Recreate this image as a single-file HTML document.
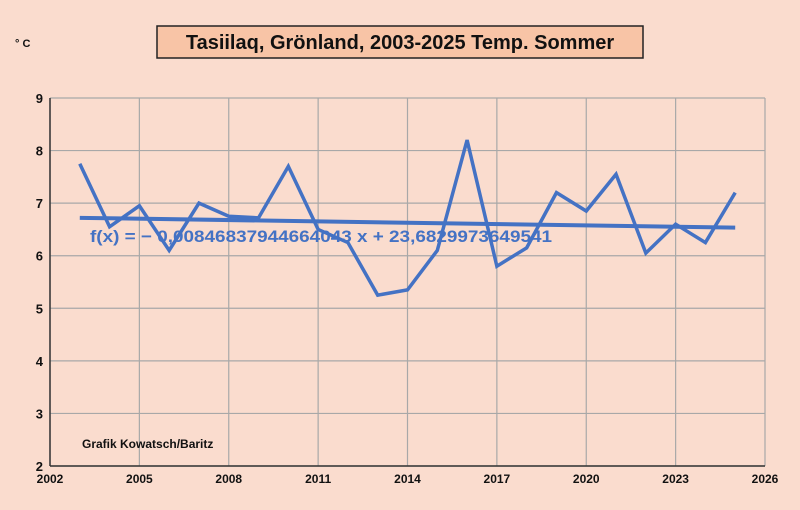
<!DOCTYPE html>
<html><head><meta charset="utf-8"><style>
body{margin:0;background:#fadcce;font-family:"Liberation Sans",sans-serif}
svg{display:block}
</style></head><body>
<svg width="800" height="510" id="c">
<rect x="0" y="0" width="800" height="510" fill="#fadcce"/>
<rect x="157" y="26" width="486" height="32" fill="#f8c4a6" stroke="#222" stroke-width="1.5"/>
<text x="400" y="49" text-anchor="middle" font-size="20" font-weight="bold" fill="#111">Tasiilaq, Grönland, 2003-2025 Temp. Sommer</text>
<text x="15" y="47" font-size="11" font-weight="bold" fill="#111">° C</text>
<g id="grid"></g>
<g id="marks"></g>
<text x="82" y="448" font-size="12" font-weight="bold" fill="#111">Grafik Kowatsch/Baritz</text>
</svg>
<script>
const years=[2003,2004,2005,2006,2007,2008,2009,2010,2011,2012,2013,2014,2015,2016,2017,2018,2019,2020,2021,2022,2023,2024,2025];
const temps=[7.75,6.55,6.95,6.1,7.0,6.75,6.72,7.7,6.5,6.25,5.25,5.35,6.1,8.2,5.8,6.15,7.2,6.85,7.55,6.05,6.6,6.25,7.2];
const xTicks=[2002,2005,2008,2011,2014,2017,2020,2023,2026];
const yTicks=[2,3,4,5,6,7,8,9];
const trendSlope=-0.0084683794466404;
const trendIntercept=23.6829973649541;
const X0=50,X1=765,Y0=466,Y1=98;
const sx=v=>X0+(v-2002)/(2026-2002)*(X1-X0);
const sy=v=>Y0-(v-2)/(9-2)*(Y0-Y1);
const NS="http://www.w3.org/2000/svg";
const g=document.getElementById('grid'),m=document.getElementById('marks');
function mk(p,t,a){const e=document.createElementNS(NS,t);for(const k in a)e.setAttribute(k,a[k]);p.appendChild(e);return e;}
yTicks.forEach(v=>{
 const l=mk(g,'line',{x1:X0,x2:X1,y1:sy(v),y2:sy(v),stroke:'#a8a8a8','stroke-width':1.2});
 
 
 const t=mk(g,'text',{x:X0-7,y:sy(v)+5,'text-anchor':'end','font-size':13,'font-weight':'bold',fill:'#111'});
 t.textContent=v;
 
 
});
xTicks.forEach(v=>{
 const l=mk(g,'line',{x1:sx(v),x2:sx(v),y1:Y1,y2:Y0,stroke:'#a8a8a8','stroke-width':1.2});
 
 
 const t=mk(g,'text',{x:sx(v),y:Y0+17,'text-anchor':'middle','font-size':12,'font-weight':'bold',fill:'#111'});
 t.textContent=v;
 
 
});
const ax=mk(g,'line',{x1:X0,x2:X0,y1:Y1,y2:Y0,stroke:'#333','stroke-width':1.5});


const ax2=mk(g,'line',{x1:X0,x2:X1,y1:Y0,y2:Y0,stroke:'#333','stroke-width':1.5});


const ya=years[0],yb=years[years.length-1];
const tr=mk(m,'line',{x1:sx(ya),x2:sx(yb),y1:sy(trendSlope*ya+trendIntercept),y2:sy(trendSlope*yb+trendIntercept),stroke:'#4472c4','stroke-width':4});


const pl=mk(m,'polyline',{points:years.map((y,i)=>sx(y)+','+sy(temps[i])).join(' '),fill:'none',stroke:'#4472c4','stroke-width':3.5,'stroke-linejoin':'miter'});


const eq=mk(m,'text',{x:90,y:242,'font-size':17,'font-weight':'bold',fill:'#4472c4',textLength:462,lengthAdjust:'spacingAndGlyphs'});
eq.textContent='f(x) = − 0,0084683794466404​3 x + 23,6829973649541'.replace('\u200b','');


</script>
</body></html>
